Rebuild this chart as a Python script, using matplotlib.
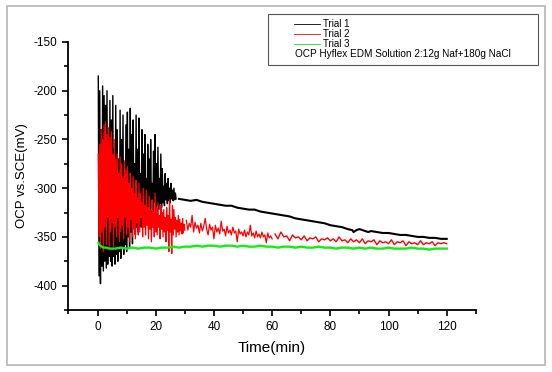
import numpy as np
import matplotlib
matplotlib.use("Agg")
import matplotlib.pyplot as plt
from matplotlib.patches import Rectangle
from matplotlib.lines import Line2D
from matplotlib.ticker import MultipleLocator

plt.rcParams['font.family'] = ['Liberation Sans', 'DejaVu Sans']
plt.rcParams['axes.unicode_minus'] = False

# Trial 1 (black) - noisy start, then slow drift
t1_noisy = np.arange(1, 109) * 0.25
v1_noisy = [-185, -390, -200, -398, -240, -380, -195, -385,
            -205, -375, -215, -382, -200, -378, -250, -370,
            -210, -375, -230, -380, -205, -370, -260, -378,
            -215, -368, -240, -375, -270, -365, -220, -372,
            -250, -362, -225, -368, -280, -358, -235, -365,
            -222, -350, -260, -360, -218, -345, -245, -357,
            -230, -335, -275, -348, -225, -340, -260, -345,
            -228, -325, -285, -340, -240, -330, -265, -336,
            -245, -322, -290, -333, -255, -325, -270, -330,
            -250, -320, -295, -326, -262, -315, -245, -325,
            -275, -318, -258, -322, -290, -316, -265, -320,
            -280, -315, -298, -318, -285, -312, -295, -316,
            -290, -313, -300, -315, -295, -311, -302, -313,
            -300, -312, -305, -311]
t1_smooth = [28, 30, 32, 34, 36, 38, 40, 42, 44, 46, 48, 50, 52, 54, 56, 58,
             60, 62, 64, 66, 68, 70, 72, 74, 76, 78, 80, 82, 84, 86, 87.5, 88,
             89, 90, 91, 92, 93, 94, 96, 98, 100, 102, 104, 106, 108, 110, 112,
             114, 116, 118, 120]
v1_smooth = [-311, -312, -313, -312, -314, -315, -316, -317, -318, -318, -320,
             -321, -322, -322, -324, -325, -326, -327, -328, -329, -331, -332,
             -333, -334, -335, -336, -338, -339, -340, -342, -343, -345, -343,
             -342, -343, -344, -345, -344, -345, -346, -346, -347, -348, -348,
             -349, -350, -350, -351, -351, -352, -352]

# Trial 2 (red)
t2_noisy = np.arange(1, 121) * 0.25
v2_noisy = [-265, -350, -255, -362, -240, -345, -250, -365,
            -235, -340, -232, -358, -245, -330, -238, -362,
            -248, -345, -242, -335, -265, -360, -250, -340,
            -270, -350, -265, -330, -285, -355, -268, -345,
            -275, -338, -290, -352, -272, -330, -282, -348,
            -278, -340, -295, -355, -285, -332, -300, -350,
            -288, -342, -305, -352, -292, -335, -310, -348,
            -295, -345, -305, -330, -315, -350, -300, -340,
            -318, -348, -302, -338, -320, -352, -308, -342,
            -322, -355, -312, -340, -325, -350, -305, -345,
            -320, -348, -315, -340, -328, -352, -318, -342,
            -325, -350, -322, -345, -330, -355, -320, -343,
            -328, -365, -312, -345, -332, -367, -318, -348,
            -322, -342, -330, -350, -333, -345, -328, -348,
            -332, -344, -336, -347, -331, -346, -337, -343]
t2_mid = np.arange(61, 121) * 0.5
v2_mid = [-333, -343, -336, -340, -328, -345, -335, -341, -338, -346,
          -336, -344, -339, -331, -342, -348, -337, -343, -340, -352,
          -338, -345, -341, -347, -334, -344, -342, -349, -339, -346,
          -343, -348, -340, -346, -344, -355, -342, -347, -345, -349,
          -343, -350, -345, -348, -338, -349, -346, -351, -344, -350,
          -347, -351, -345, -350, -348, -356, -346, -351, -349, -352]
t2_late = np.arange(61, 121)
v2_late = [-347, -352, -345, -350, -349, -354, -348, -351, -350, -353,
           -349, -354, -351, -352, -350, -355, -352, -353, -351, -354,
           -352, -355, -350, -354, -353, -356, -352, -355, -353, -356,
           -352, -357, -354, -355, -353, -358, -354, -356, -355, -357,
           -353, -358, -355, -356, -354, -359, -355, -357, -356, -358,
           -354, -358, -356, -357, -355, -359, -356, -357, -356, -357]

# Trial 3 (green)
t3 = np.concatenate([[0.3, 0.6, 1, 1.5, 2, 3, 4, 5], np.arange(6, 121, 2)])
v3 = [-356, -358, -359, -360, -361, -361, -362, -362,
      -362, -361, -362, -361, -362, -361, -361, -362, -361, -361,
      -360, -361, -360, -360, -359, -360, -359, -359, -360, -359,
      -359, -360, -359, -360, -360, -359, -360, -360, -361, -360,
      -360, -361, -360, -361, -361, -360, -361, -361, -362, -361,
      -361, -362, -361, -362, -361, -362, -362, -361, -362, -362,
      -362, -361, -362, -362, -363, -362, -362, -362]

labels = ["Trial 1", "Trial 2", "Trial 3"]
colors = ["black", "red", "#11ee11"]
note = "OCP Hyflex EDM Solution 2:12g Naf+180g NaCl"

fig = plt.figure(figsize=(5.52, 3.72), dpi=100)
ax = fig.add_axes([0.124, 0.1667, 0.738, 0.7204])

ax.plot(t1_noisy, v1_noisy, color="black", lw=1.0, zorder=2)
ax.plot(t1_smooth, v1_smooth, color="black", lw=1.5, zorder=2)
ax.plot(t2_noisy, v2_noisy, color="red", lw=0.9, zorder=3)
ax.plot(t2_mid, v2_mid, color="red", lw=0.9, zorder=3)
ax.plot(t2_late, v2_late, color="red", lw=1.0, zorder=3)
ax.plot(t3, v3, color=colors[2], lw=1.7, zorder=4)

ax.set_xlim(-10, 130)
ax.set_ylim(-425, -150)
ax.xaxis.set_minor_locator(MultipleLocator(10))
ax.yaxis.set_minor_locator(MultipleLocator(25))
ax.set_xticks([0, 20, 40, 60, 80, 100, 120])
ax.set_yticks([-400, -350, -300, -250, -200, -150])
for s in ["top", "right"]:
    ax.spines[s].set_visible(False)
for s in ["left", "bottom"]:
    ax.spines[s].set_linewidth(1.3)
ax.tick_params(which="major", length=4, width=1.2, labelsize=8.5, pad=4)
ax.tick_params(which="minor", length=3, width=1.2)
ax.set_xlabel("Time(min)", fontsize=11, labelpad=6)
ax.set_ylabel("OCP vs.SCE(mV)", fontsize=9.5, labelpad=4)

# legend box drawn like Origin's
for i, (lab, c) in enumerate(zip(labels, colors)):
    y = 1 - (24 + 10 * i) / 372
    fig.add_artist(Line2D([0.533, 0.580], [y, y], color=c, lw=0.6,
                          transform=fig.transFigure))
    fig.text(0.585, y, lab, fontsize=7, va="center", ha="left")
fig.text(0.534, 1 - 54 / 372, note, fontsize=7.2, va="center", ha="left")
fig.patches.append(Rectangle((0.4855, 0.8253), 0.489, 0.137, transform=fig.transFigure,
                             fill=False, ec="#555555", lw=0.8))
fig.patches.append(Rectangle((0.0127, 0.0188), 0.975, 0.965, transform=fig.transFigure,
                             fill=False, ec="#b5b5b5", lw=1.2))

fig.savefig("out.png", dpi=100)
